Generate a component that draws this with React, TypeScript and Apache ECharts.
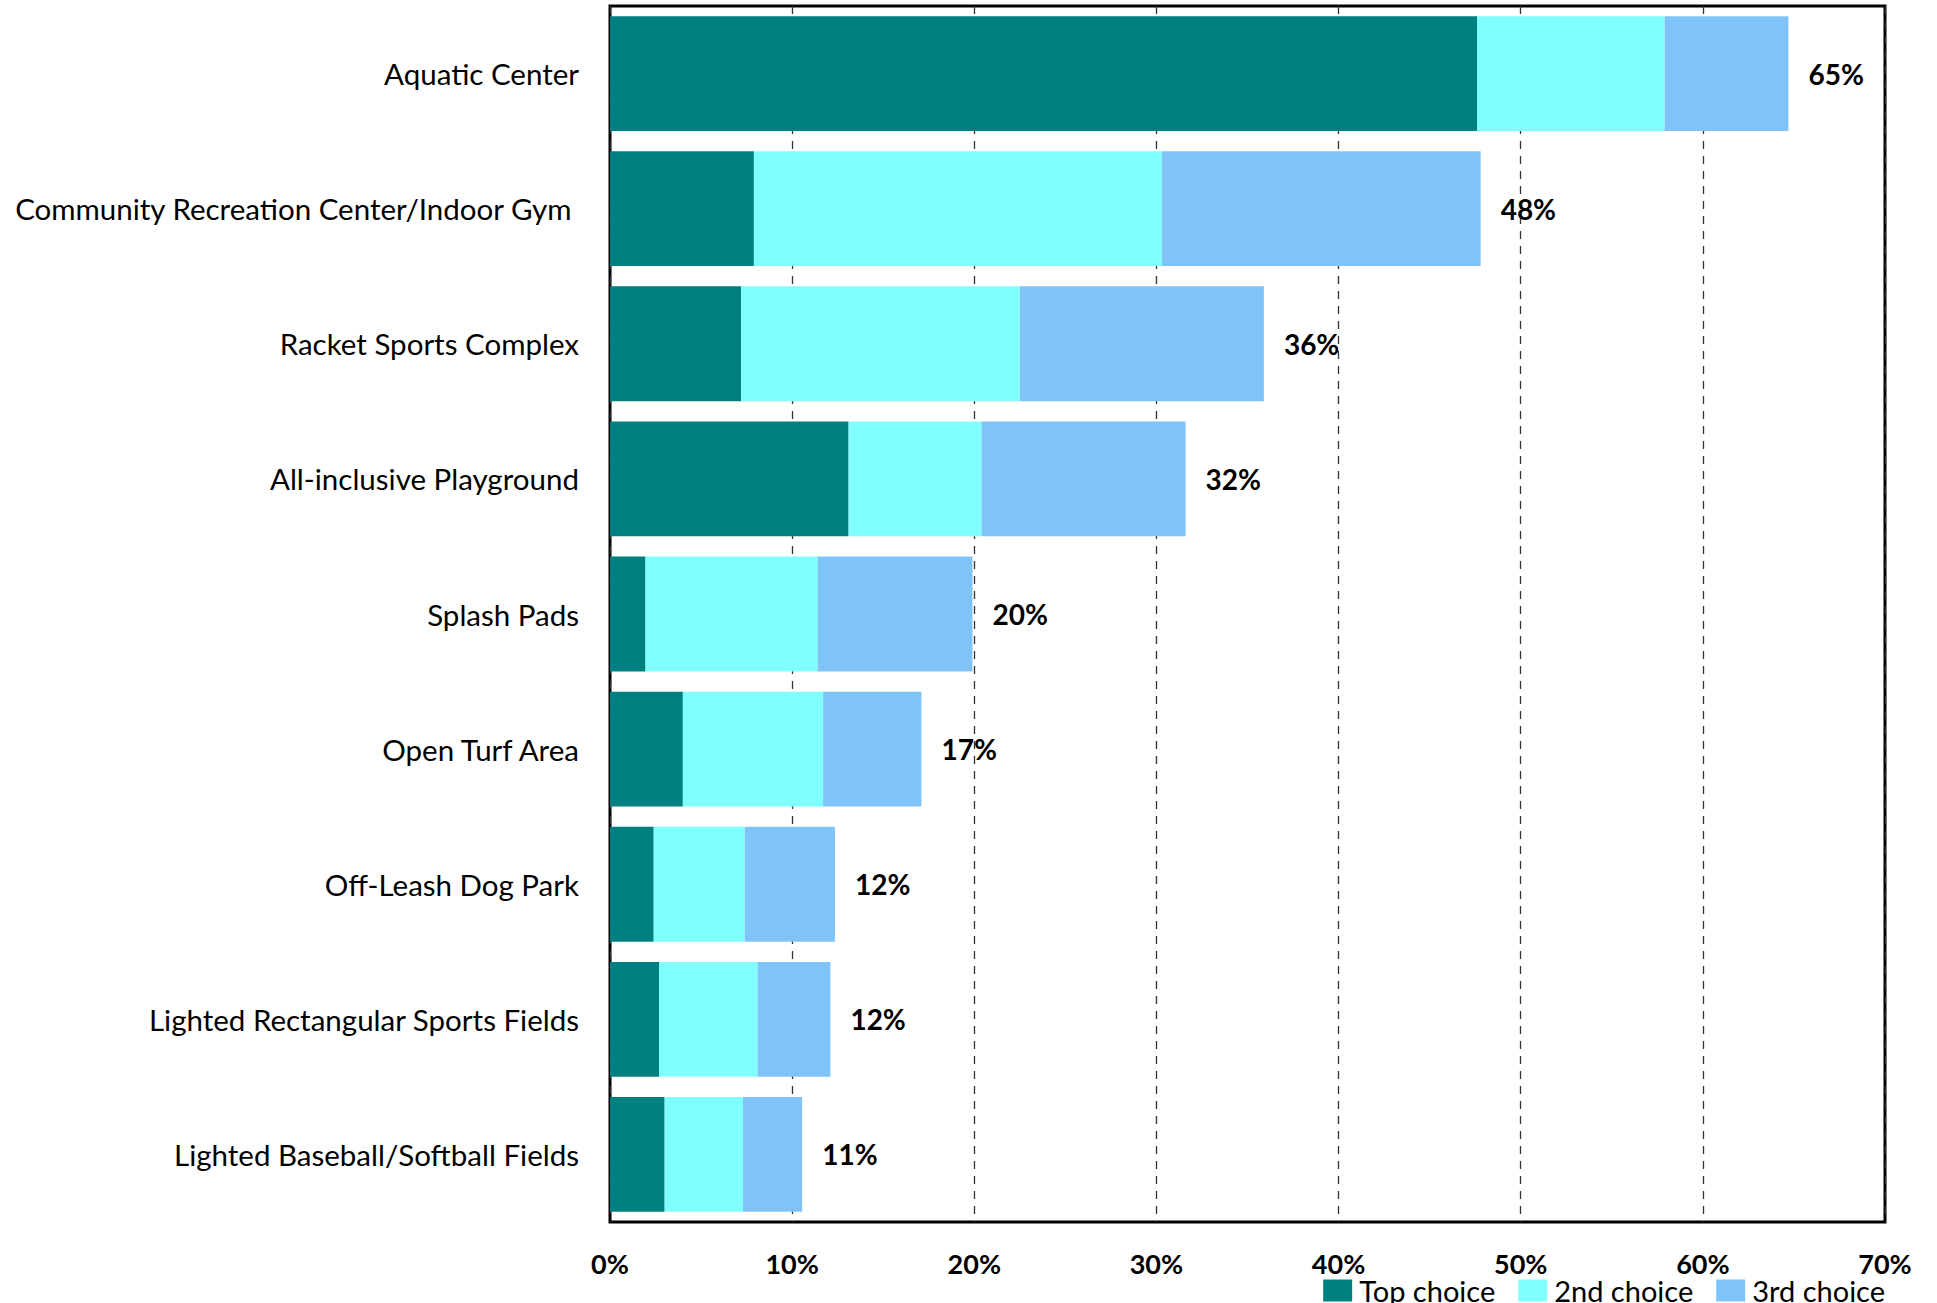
import React, { useEffect, useRef } from "react";
import * as echarts from "echarts";

const categories = [
  "Aquatic Center",
  "Community Recreation Center/Indoor Gym ",
  "Racket Sports Complex",
  "All-inclusive Playground",
  "Splash Pads",
  "Open Turf Area",
  "Off-Leash Dog Park",
  "Lighted Rectangular Sports Fields",
  "Lighted Baseball/Softball Fields",
];
const topChoice = [47.6, 7.9, 7.2, 13.1, 1.95, 4.0, 2.4, 2.7, 3.0];
const secondChoice = [10.3, 22.4, 15.3, 7.3, 9.45, 7.7, 5.0, 5.4, 4.3];
const thirdChoice = [6.8, 17.5, 13.4, 11.2, 8.5, 5.4, 4.95, 4.0, 3.25];
const totals = ["65%", "48%", "36%", "32%", "20%", "17%", "12%", "12%", "11%"];
const seriesNames = ["Top choice", "2nd choice", "3rd choice"];
const colors = ["#008080", "#80FFFF", "#80C3F8"];

const FONT = "Lato, 'Open Sans', sans-serif";

export default function App() {
  const ref = useRef<HTMLDivElement>(null);
  useEffect(() => {
    if (!ref.current) return;
    const chart = echarts.init(ref.current, null, { renderer: "svg" });
    const data = [topChoice, secondChoice, thirdChoice];
    chart.setOption({
      animation: false,
      backgroundColor: "#fff",
      textStyle: { fontFamily: FONT },
      grid: {
        left: 610,
        right: 52,
        top: 6,
        bottom: 81,
        show: true,
        borderColor: "#000",
        borderWidth: 3,
        containLabel: false,
      },
      legend: {
        data: seriesNames,
        right: 52,
        top: 1276,
        itemWidth: 29,
        itemHeight: 22,
        itemGap: 23,
        padding: 0,
        icon: "rect",
        textStyle: {
          fontSize: 29,
          lineHeight: 24,
          color: "#000",
          fontFamily: FONT,
          padding: [0, 0, 0, 2],
        },
      },
      xAxis: {
        type: "value",
        min: 0,
        max: 70,
        interval: 10,
        axisLine: { show: false },
        axisTick: { show: false },
        splitLine: {
          show: true,
          lineStyle: { color: "#333", type: [8, 7], width: 1.3 },
        },
        axisLabel: {
          formatter: (v: number) => v + "%",
          fontSize: 27,
          fontWeight: "bold",
          color: "#000",
          margin: 28,
          fontFamily: FONT,
        },
      },
      yAxis: {
        type: "category",
        data: categories,
        inverse: true,
        axisLine: { show: false },
        axisTick: { show: false },
        splitLine: { show: false },
        axisLabel: {
          fontSize: 29.5,
          color: "#000",
          margin: 31,
          fontFamily: FONT,
        },
      },
      series: data.map((d, i) => ({
        name: seriesNames[i],
        type: "bar",
        stack: "total",
        data: d,
        barCategoryGap: "15%",
        itemStyle: { color: colors[i] },
        label:
          i === 2
            ? {
                show: true,
                position: "right",
                distance: 20,
                formatter: (p: any) => totals[p.dataIndex],
                fontSize: 28,
                fontWeight: "bold",
                color: "#000",
                fontFamily: FONT,
              }
            : { show: false },
      })),
    });
    return () => chart.dispose();
  }, []);
  return (
    <div
      ref={ref}
      style={{ position: "fixed", left: 0, top: 0, width: 1937, height: 1303 }}
    />
  );
}
